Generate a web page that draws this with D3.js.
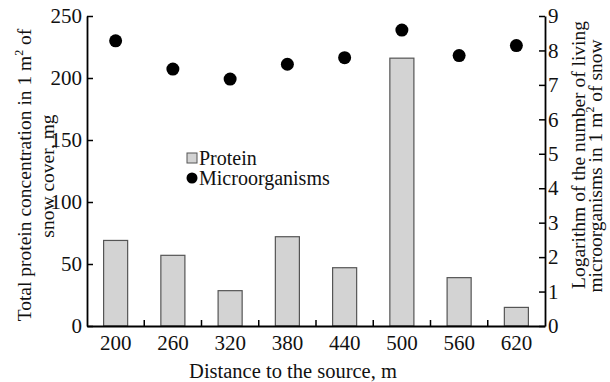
<!DOCTYPE html>
<html><head><meta charset="utf-8">
<script src="https://cdn.jsdelivr.net/npm/d3@7/dist/d3.min.js"></script>
<style>body{margin:0;background:#fff}svg text{font-family:"Liberation Serif","Times New Roman",serif;fill:#111}</style>
</head><body><svg id="c" width="610" height="382"></svg>
<script>
const categories = ["200","260","320","380","440","500","560","620"];
const protein = [69, 57, 28.5, 72, 47, 216, 39, 15];
const microorganisms = [8.28, 7.46, 7.17, 7.6, 7.79, 8.59, 7.85, 8.14];
const leftTicks = [0,50,100,150,200,250];
const rightTicks = [0,1,2,3,4,5,6,7,8,9];

const svg = d3.select("#c");
const L = 87, R = 545, T = 16, B = 326;
const x = d3.scaleBand().domain(categories).range([L, R]).paddingInner(0.58).paddingOuter(0.29);
const xb = d3.scaleBand().domain(categories).range([L, R]);
const yL = d3.scaleLinear().domain([0,250]).range([B, T]);
const yR = d3.scaleLinear().domain([0,9]).range([B, T]);

// bars
svg.append("g").selectAll("rect").data(protein).join("rect")
  .attr("x",(d,i)=>x(categories[i])).attr("width",x.bandwidth())
  .attr("y",d=>yL(d)).attr("height",d=>B-yL(d))
  .attr("fill","#d3d3d3").attr("stroke","#555").attr("stroke-width",1.2);

// dots
svg.append("g").selectAll("circle").data(microorganisms).join("circle")
  .attr("cx",(d,i)=>xb(categories[i])+xb.bandwidth()/2).attr("cy",d=>yR(d))
  .attr("r",6.5).attr("fill","#000");

// left axis
const gl = svg.append("g").attr("transform",`translate(${L},0)`)
  .call(d3.axisLeft(yL).tickValues(leftTicks).tickSizeInner(-6).tickSizeOuter(0));
gl.selectAll("text").attr("x",-5).style("font-size","21px");
// right axis
const gr = svg.append("g").attr("transform",`translate(${R},0)`)
  .call(d3.axisRight(yR).tickValues(rightTicks).tickSizeInner(-6).tickSizeOuter(0));
gr.selectAll("text").attr("x",3).style("font-size","21px");
// bottom axis
const gb = svg.append("g").attr("transform",`translate(0,${B})`)
  .call(d3.axisBottom(xb).tickSize(0).tickPadding(8));
gb.selectAll("text").style("font-size","21px").attr("dy","0.75em");
svg.append("g").selectAll("line").data(categories.slice(1)).join("line")
  .attr("x1",d=>xb(d)).attr("x2",d=>xb(d)).attr("y1",B).attr("y2",B-6)
  .attr("stroke","#000").attr("stroke-width",1.5);
[gl,gr,gb].forEach(g=>{g.select(".domain").attr("stroke","#000").attr("stroke-width",1.8);g.selectAll(".tick line").attr("stroke","#000").attr("stroke-width",1.5);});

// axis titles
svg.append("text").attr("x",293).attr("y",378).attr("text-anchor","middle").style("font-size","20.5px")
  .text("Distance to the source, m");
const lt = svg.append("text").attr("transform","translate(31,175) rotate(-90)").attr("text-anchor","middle").style("font-size","19.5px");
lt.append("tspan").text("Total protein concentration in 1 m");
lt.append("tspan").attr("dy","-8").style("font-size","12px").text("2");
lt.append("tspan").attr("dy","8").text(" of");
svg.append("text").attr("transform","translate(54,176) rotate(-90)").attr("text-anchor","middle").style("font-size","19.5px")
  .text("snow cover, mg");
svg.append("text").attr("transform","translate(585,155) rotate(-90)").attr("text-anchor","middle").style("font-size","19.5px")
  .text("Logarithm of the number of living");
const rt = svg.append("text").attr("transform","translate(602,166) rotate(-90)").attr("text-anchor","middle").style("font-size","19.5px");
rt.append("tspan").text("microorganisms in 1 m");
rt.append("tspan").attr("dy","-8").style("font-size","12px").text("2");
rt.append("tspan").attr("dy","8").text(" of snow");

// legend
const lg = svg.append("g");
lg.append("rect").attr("x",187).attr("y",153).attr("width",10).attr("height",10).attr("fill","#d3d3d3").attr("stroke","#555");
lg.append("text").attr("x",199).attr("y",165).style("font-size","20px").text("Protein");
lg.append("circle").attr("cx",192).attr("cy",178).attr("r",5.5).attr("fill","#000");
lg.append("text").attr("x",199).attr("y",185).style("font-size","20px").text("Microorganisms");
</script></body></html>
